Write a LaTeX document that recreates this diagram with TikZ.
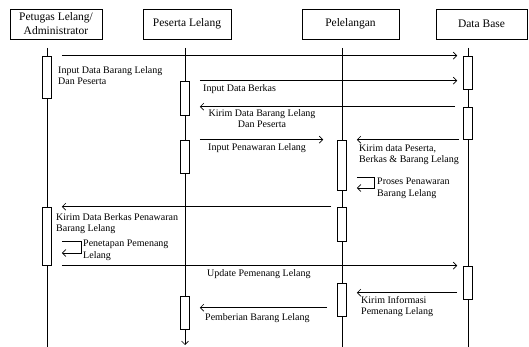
\documentclass[tikz,border=0pt]{standalone}
\usepackage{fontspec}
\setmainfont{Liberation Serif}
\usetikzlibrary{positioning,arrows.meta,calc}

\begin{document}
\begin{tikzpicture}[x=1pt,y=-1pt,
  head/.style={draw, line width=0.8pt, minimum height=30pt, align=center, inner sep=1pt, font=\fontsize{11.5}{14}\selectfont},
  bar/.style={draw, fill=white, line width=0.7pt, minimum width=9pt, inner sep=0pt},
  life/.style={line width=0.6pt},
  msg/.style={line width=0.7pt, -{Straight Barb[length=3.5pt,width=7pt]}},
  lbl/.style={inner sep=0pt, align=left, anchor=north west, font=\fontsize{10}{11.5}\selectfont}]
\useasboundingbox (0,0) rectangle (529,347);
\node[head, minimum width=92pt] (petugas) at (56,24) {Petugas Lelang/\\Administrator};
\node[head, minimum width=88pt] (peserta) at (187,24) {Peserta Lelang};
\node[head, minimum width=97pt] (pelelangan) at (350.5,24) {Pelelangan};
\node[head, minimum width=91pt] (database) at (481.5,24) {Data Base};
\draw[life] (47,48) -- (47,347);
\draw[life,-{Straight Barb[length=3.5pt,width=7pt]}] (185,48) -- (185,345);
\draw[life] (342,48) -- (342,347);
\draw[life] (468,48) -- (468,347);
\node[bar, minimum height=42pt] (b1a) at (47,77) {};
\node[bar, minimum height=58pt] (b1b) at (47,236) {};
\node[bar, minimum height=34pt] (b2a) at (185,98) {};
\node[bar, minimum height=33pt] (b2b) at (185,156.5) {};
\node[bar, minimum height=33pt] (b2c) at (185,312.5) {};
\node[bar, minimum height=50pt] (b3a) at (342,165) {};
\node[bar, minimum height=34pt] (b3b) at (342,224) {};
\node[bar, minimum height=33pt] (b3c) at (342,299.5) {};
\node[bar, minimum height=33pt] (b4a) at (468,72.5) {};
\node[bar, minimum height=32pt] (b4b) at (468,123) {};
\node[bar, minimum height=33pt] (b4c) at (468,282.5) {};
\draw[msg] ($(b1a.north east)+(10,0)$) -- ($(b4a.north west)+(-6,0)$);
\draw[msg] ($(b2a.north east)+(10,0)$) -- ($(b2a.north -| b4a.west)+(-6,0)$);
\draw[msg] ($(b4b.north west)+(-8,0)$) -- ($(b4b.north -| b2a.east)+(10,0)$);
\draw[msg] ($(b2b.north east)+(10,0)$) -- ($(b2b.north -| b3a.west)+(-14,0)$);
\draw[msg] ($(b3a.north -| b4b.west)+(-4,0)$) -- ($(b3a.north east)+(10,0)$);
\coordinate (proses) at ($(b3a.east)+(10,12)$);
\draw[msg] (proses) -- ++(17,0) -- ++(0,11) -- ++(-17,0);
\draw[msg] ($(b3b.north west)+(-6,0)$) -- ($(b3b.north -| b1b.east)+(10,0)$);
\coordinate (tetap) at ($(b1b.east)+(10,5)$);
\draw[msg] (tetap) -- ++(19,0) -- ++(0,12) -- ++(-19,0);
\draw[msg] ($(b4c.north -| b1b.east)+(10,0)$) -- ($(b4c.north west)+(-6,0)$);
\draw[msg] ($(b3c.north -| b4c.west)+(-6,10)$) -- ($(b3c.north east)+(10,10)$);
\draw[msg] ($(b2c.north -| b3c.west)+(-10,12)$) -- ($(b2c.north east)+(10,12)$);
\node[lbl] (t1) at (58,66) {Input Data Barang Lelang\\Dan Peserta};
\node[lbl] (t2) at (203,84) {Input Data Berkas};
\node[lbl, anchor=north, align=center] (t3) at (262,109) {Kirim Data Barang Lelang\\Dan Peserta};
\node[lbl] (t4) at (208,143) {Input Penawaran Lelang};
\node[lbl] (t5) at (359,144) {Kirim data Peserta,\\Berkas \& Barang Lelang};
\node[lbl] (t6) at (377,178) {Proses Penawaran\\Barang Lelang};
\node[lbl] (t7) at (56,213) {Kirim Data Berkas Penawaran\\Barang Lelang};
\node[lbl] (t8) at (83,240) {Penetapan Pemenang\\Lelang};
\node[lbl] (t9) at (207,269) {Update Pemenang Lelang};
\node[lbl] (t10) at (361,296) {Kirim Informasi\\Pemenang Lelang};
\node[lbl] (t11) at (205,313) {Pemberian Barang Lelang};
\end{tikzpicture}
\end{document}
